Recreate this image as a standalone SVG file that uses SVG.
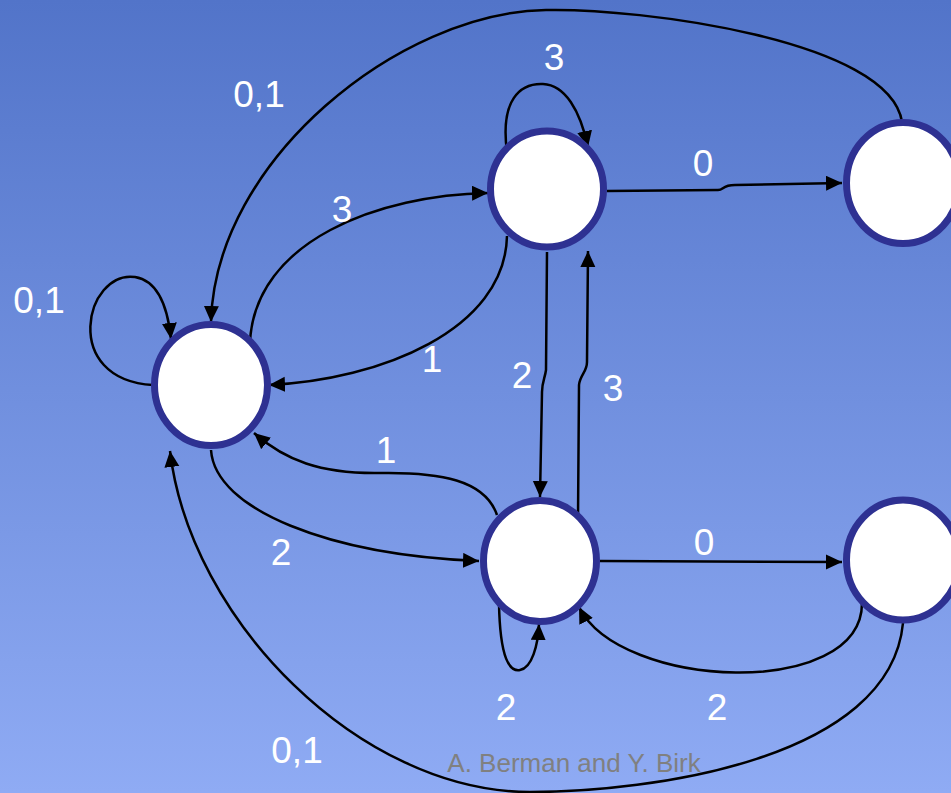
<svg xmlns="http://www.w3.org/2000/svg" width="951" height="793" viewBox="0 0 951 793">
<defs>
<linearGradient id="bg" x1="0" y1="0" x2="0" y2="1">
<stop offset="0" stop-color="#5274C9"/>
<stop offset="1" stop-color="#8FABF4"/>
</linearGradient>
<marker id="arr" markerUnits="userSpaceOnUse" markerWidth="17" markerHeight="16" refX="16" refY="7.5" orient="auto">
<path d="M0,0 L16,7.5 L0,15 z" fill="#000"/>
</marker>
<style>
.node{fill:#fff;stroke:#2E3192;stroke-width:7}
.edge{fill:none;stroke:#000;stroke-width:2.5;marker-end:url(#arr)}
.lbl{font-family:"Liberation Sans",Arial,sans-serif;font-size:37px;fill:#fff;text-anchor:middle}
.foot{font-family:"Liberation Sans",Arial,sans-serif;font-size:26px;fill:#808080;text-anchor:middle}
</style>
</defs>
<rect width="951" height="793" fill="url(#bg)"/>
<g id="connectors">
<path class="edge" d="M507 152 C500 100,520 83,543 84 C565 85,580 110,588 147"/>
<path class="edge" d="M902 122 C890 40,640 8,546 10 C400 12,215 160,211 322"/>
<path class="edge" d="M607 191 L718 190 C724 190,722 185,735 185 L842 183"/>
<path class="edge" d="M250 342 C255 240,380 195,488 193"/>
<path class="edge" d="M507 236 C505 330,380 380,269 385"/>
<path class="edge" d="M153 385 C60 380,85 270,135 277 C160 281,168 310,171 339"/>
<path class="edge" d="M547 252 L546 370 C545 378,542 382,542 392 L540 497"/>
<path class="edge" d="M578 520 L579 385 C580 375,587 372,587 362 L588 251"/>
<path class="edge" d="M497 515 C485 480,440 472,380 473 C320 474,285 460,254 433"/>
<path class="edge" d="M211 450 C215 510,330 555,479 561"/>
<path class="edge" d="M600 561 L842 562"/>
<path class="edge" d="M862 603 C862 700,620 690,579 607"/>
<path class="edge" d="M499 603 C500 660,510 672,520 670 C532 668,538 645,539 624"/>
<path class="edge" d="M903 623 C890 760,650 792,530 792 C360 792,190 620,170 451"/>
</g>
<g id="nodeA"><ellipse class="node" cx="211" cy="385" rx="56.5" ry="60.5"/></g>
<g id="nodeB"><ellipse class="node" cx="547" cy="189" rx="56.5" ry="58"/></g>
<g id="nodeC"><ellipse class="node" cx="903" cy="183" rx="56.5" ry="60.5"/></g>
<g id="nodeD"><ellipse class="node" cx="540" cy="561" rx="56.5" ry="60.5"/></g>
<g id="nodeE"><ellipse class="node" cx="903" cy="560" rx="56.5" ry="60"/></g>
<g id="labels">
<text class="lbl" x="554" y="70">3</text>
<text class="lbl" x="259" y="107">0,1</text>
<text class="lbl" x="342" y="222">3</text>
<text class="lbl" x="432" y="372">1</text>
<text class="lbl" x="39" y="313">0,1</text>
<text class="lbl" x="703" y="176">0</text>
<text class="lbl" x="522" y="388">2</text>
<text class="lbl" x="613" y="401">3</text>
<text class="lbl" x="386" y="463">1</text>
<text class="lbl" x="281" y="565">2</text>
<text class="lbl" x="704" y="555">0</text>
<text class="lbl" x="506" y="720">2</text>
<text class="lbl" x="717" y="720">2</text>
<text class="lbl" x="297" y="763">0,1</text>
</g>
<text class="foot" x="574" y="772">A. Berman and Y. Birk</text>
</svg>
